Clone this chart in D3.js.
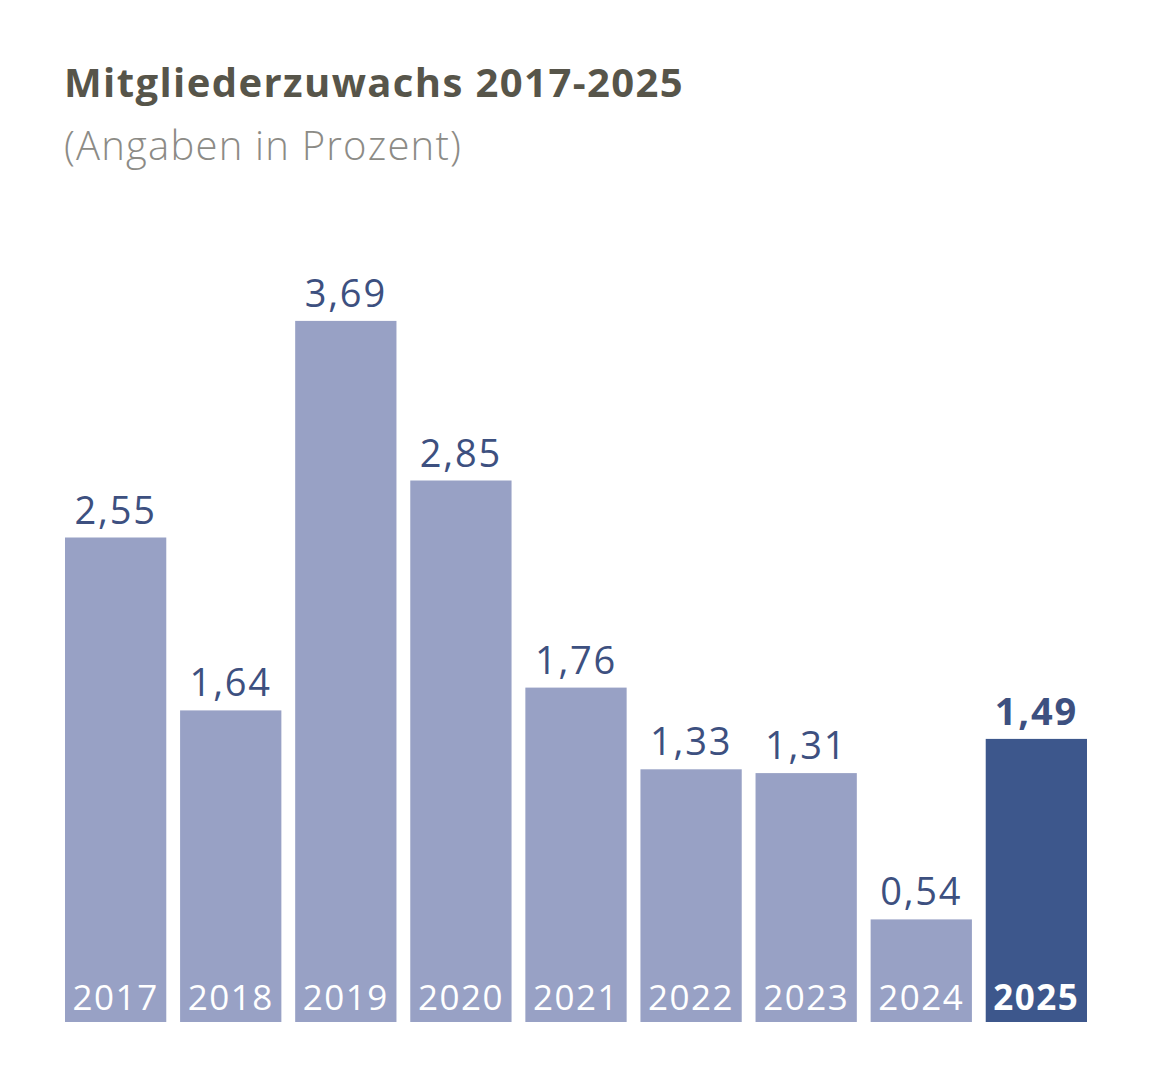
<!DOCTYPE html>
<html>
<head>
<meta charset="utf-8">
<script src="https://cdn.jsdelivr.net/npm/d3@7"></script>
<style>
  body { margin: 0; background: #fff; }
  svg text { font-family: "Open Sans", "Noto Sans", sans-serif; }
</style>
</head>
<body>
<div id="chart"></div>
<script>
const years  = ['2017', '2018', '2019', '2020', '2021', '2022', '2023', '2024', '2025'];
const values = [2.55, 1.64, 3.69, 2.85, 1.76, 1.33, 1.31, 0.54, 1.49];
const highlightYear = '2025';

const title    = 'Mitgliederzuwachs 2017-2025';
const subtitle = '(Angaben in Prozent)';

const W = 1156, H = 1090;
const m = { left: 65, right: 69, bottom: 68 };
const baseY = H - m.bottom;

const svg = d3.select('#chart').append('svg')
  .attr('width', W).attr('height', H);

// ── Titles ──
svg.append('text')
  .attr('x', 64).attr('y', 97)
  .attr('fill', '#57554a')
  .style('font-size', '40px').style('font-weight', 700)
  .style('letter-spacing', '1.4px')
  .text(title);

svg.append('text')
  .attr('x', 64).attr('y', 160)
  .attr('fill', '#8c8b86')
  .style('font-size', '40px').style('font-weight', 300)
  .style('letter-spacing', '1.2px')
  .text(subtitle);

// ── Scales ──
const x = d3.scaleBand()
  .domain(years)
  .range([m.left, W - m.right])
  .paddingInner(0.12).paddingOuter(0);

const y = d3.scaleLinear()
  .domain([0, 3.69])
  .range([baseY, baseY - 3.69 * 190]);

const data = years.map((yr, i) => ({ year: yr, value: values[i] }));
const isHi = d => d.year === highlightYear;

// Bars
svg.selectAll('rect.bar')
  .data(data).enter().append('rect')
  .attr('class', 'bar')
  .attr('x', d => x(d.year))
  .attr('y', d => y(d.value))
  .attr('width', x.bandwidth())
  .attr('height', d => baseY - y(d.value))
  .attr('fill', d => isHi(d) ? '#3d578c' : '#98a1c5');

// Value labels
svg.selectAll('.val-label')
  .data(data).enter().append('text')
  .attr('class', 'val-label')
  .attr('x', d => x(d.year) + x.bandwidth() / 2)
  .attr('y', d => y(d.value) - 14)
  .attr('text-anchor', 'middle')
  .attr('fill', '#3d5080')
  .style('font-size', '38px')
  .style('font-weight', d => isHi(d) ? 700 : 400)
  .style('letter-spacing', '1.8px')
  .text(d => d3.format('.2f')(d.value).replace('.', ','));

// Year labels inside bars
svg.selectAll('.year-label')
  .data(data).enter().append('text')
  .attr('class', 'year-label')
  .attr('x', d => x(d.year) + x.bandwidth() / 2)
  .attr('y', baseY - 12)
  .attr('text-anchor', 'middle')
  .attr('fill', '#fff')
  .style('font-size', '35px')
  .style('font-weight', d => isHi(d) ? 700 : 400)
  .style('letter-spacing', '1.5px')
  .text(d => d.year);
</script>
</body>
</html>
